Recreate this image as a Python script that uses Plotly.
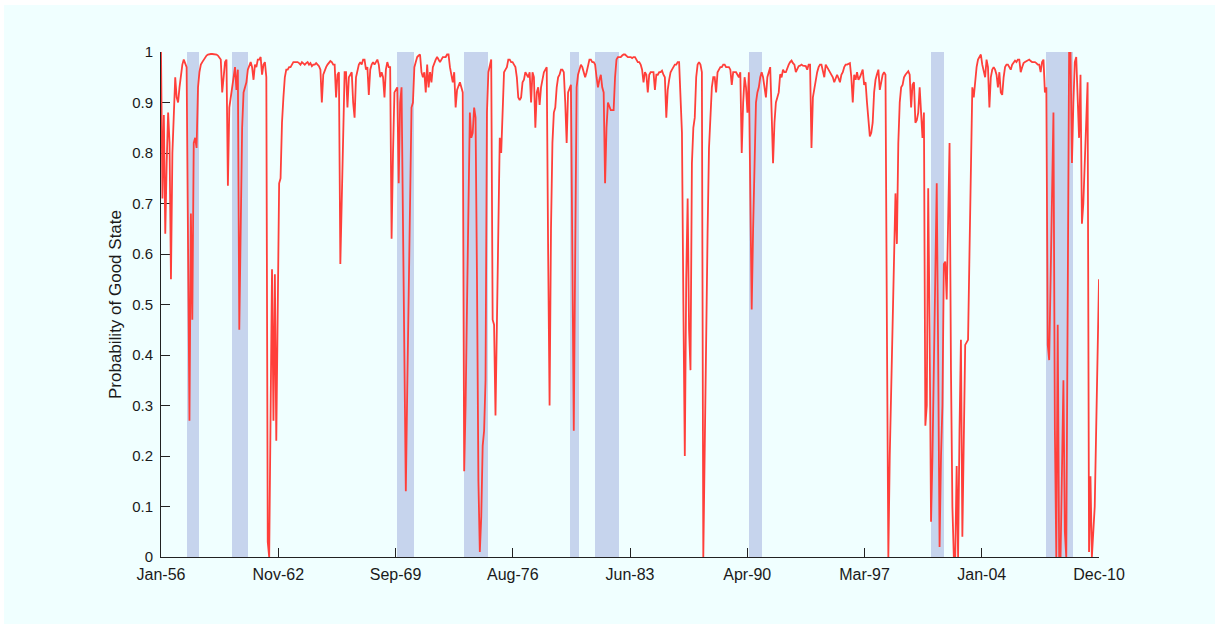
import numpy as np
import plotly.graph_objects as go

# ---------------- data (monthly probability of good state, Jan-1956 .. Dec-2010) ----------------
START_YEAR = 1956

p1950s = [
    1.00, 0.71, 0.875, 0.64, 0.78, 0.88, 0.82, 0.55, 0.80, 0.90, 0.95, 0.91,
    0.90, 0.93, 0.96, 0.975, 0.985, 0.975, 0.97, 0.62, 0.27, 0.68, 0.47, 0.82,
    0.83, 0.81, 0.93, 0.96, 0.975, 0.98, 0.985, 0.99, 0.993, 0.995, 0.996, 0.996,
    0.996, 0.996, 0.995, 0.995, 0.993, 0.99, 0.985, 0.92, 0.96, 0.98, 0.985, 0.735,
]
p1960s = [
    0.89, 0.91, 0.93, 0.95, 0.97, 0.925, 0.965, 0.45, 0.65, 0.85, 0.92, 0.93,
    0.94, 0.965, 0.975, 0.98, 0.97, 0.945, 0.975, 0.97, 0.985, 0.985, 0.99, 0.955,
    0.975, 0.98, 0.95, 0.03, 0.0, 0.30, 0.57, 0.27, 0.56, 0.23, 0.50, 0.74,
    0.75, 0.86, 0.91, 0.95, 0.965, 0.965, 0.97, 0.97, 0.975, 0.98, 0.98, 0.98,
    0.98, 0.978, 0.975, 0.98, 0.977, 0.975, 0.978, 0.98, 0.975, 0.978, 0.972, 0.975,
    0.975, 0.978, 0.975, 0.972, 0.965, 0.90, 0.955, 0.965, 0.97, 0.975, 0.98, 0.982,
    0.98, 0.975, 0.975, 0.91, 0.955, 0.96, 0.58, 0.72, 0.87, 0.96, 0.96, 0.89,
    0.95, 0.955, 0.96, 0.90, 0.87, 0.95, 0.965, 0.975, 0.98, 0.975, 0.985, 0.985,
    0.965, 0.97, 0.915, 0.965, 0.975, 0.98, 0.975, 0.98, 0.985, 0.975, 0.95, 0.96,
    0.95, 0.91, 0.965, 0.98, 0.97, 0.97, 0.63, 0.80, 0.92, 0.925, 0.93, 0.74,
]
p1970s = [
    0.90, 0.93, 0.67, 0.40, 0.13, 0.33, 0.55, 0.76, 0.89, 0.90, 0.97, 0.98,
    0.99, 0.993, 0.995, 0.96, 0.95, 0.96, 0.92, 0.975, 0.93, 0.96, 0.94, 0.97,
    0.98, 0.985, 0.99, 0.985, 0.98, 0.985, 0.99, 0.99, 0.99, 0.995, 0.995, 0.97,
    0.95, 0.94, 0.96, 0.89, 0.925, 0.935, 0.94, 0.93, 0.92, 0.17, 0.30, 0.50,
    0.69, 0.88, 0.83, 0.84, 0.89, 0.87, 0.55, 0.15, 0.01, 0.08, 0.22, 0.25,
    0.35, 0.88, 0.96, 0.975, 0.985, 0.47, 0.46, 0.28, 0.50, 0.72, 0.83, 0.80,
    0.90, 0.96, 0.965, 0.97, 0.985, 0.985, 0.98, 0.98, 0.975, 0.97, 0.95, 0.91,
    0.905, 0.91, 0.94, 0.945, 0.96, 0.955, 0.95, 0.96, 0.90, 0.96, 0.95, 0.85,
    0.92, 0.93, 0.895, 0.93, 0.95, 0.96, 0.965, 0.97, 0.60, 0.30, 0.65, 0.82,
    0.88, 0.89, 0.93, 0.95, 0.955, 0.965, 0.965, 0.96, 0.90, 0.82, 0.92, 0.93,
]
p1980s = [
    0.935, 0.60, 0.25, 0.60, 0.93, 0.955, 0.965, 0.975, 0.97, 0.96, 0.95, 0.96,
    0.975, 0.985, 0.985, 0.98, 0.98, 0.975, 0.95, 0.93, 0.945, 0.955, 0.93, 0.92,
    0.74, 0.85, 0.90, 0.89, 0.885, 0.885, 0.885, 0.95, 0.985, 0.99, 0.99, 0.99,
    0.993, 0.995, 0.995, 0.993, 0.99, 0.99, 0.99, 0.988, 0.99, 0.99, 0.985, 0.98,
    0.98, 0.975, 0.965, 0.94, 0.96, 0.955, 0.92, 0.955, 0.96, 0.96, 0.96, 0.925,
    0.955, 0.955, 0.96, 0.96, 0.963, 0.955, 0.95, 0.87, 0.925, 0.945, 0.96, 0.965,
    0.97, 0.975, 0.975, 0.98, 0.98, 0.90, 0.84, 0.50, 0.20, 0.55, 0.71, 0.45,
    0.37, 0.78, 0.85, 0.87, 0.95, 0.975, 0.98, 0.975, 0.96, 0.0, 0.24, 0.44,
    0.64, 0.81, 0.88, 0.93, 0.95, 0.95, 0.92, 0.96, 0.965, 0.97, 0.97, 0.975,
    0.975, 0.97, 0.97, 0.97, 0.965, 0.935, 0.96, 0.96, 0.96, 0.955, 0.95, 0.96,
]
p1990s = [
    0.80, 0.90, 0.95, 0.93, 0.88, 0.96, 0.75, 0.49, 0.65, 0.80, 0.90, 0.92,
    0.93, 0.95, 0.96, 0.95, 0.93, 0.91, 0.95, 0.96, 0.97, 0.88, 0.78, 0.86,
    0.90, 0.91, 0.92, 0.956, 0.95, 0.965, 0.96, 0.96, 0.97, 0.975, 0.98, 0.983,
    0.978, 0.975, 0.96, 0.968, 0.972, 0.973, 0.975, 0.973, 0.972, 0.972, 0.965, 0.975,
    0.975, 0.81, 0.91, 0.93, 0.94, 0.96, 0.97, 0.975, 0.975, 0.965, 0.95, 0.975,
    0.97, 0.965, 0.96, 0.955, 0.95, 0.94, 0.95, 0.955, 0.948, 0.94, 0.955, 0.96,
    0.97, 0.975, 0.975, 0.977, 0.978, 0.95, 0.90, 0.955, 0.945, 0.96, 0.945, 0.95,
    0.96, 0.965, 0.935, 0.94, 0.90, 0.87, 0.833, 0.84, 0.86, 0.92, 0.945, 0.956,
    0.965, 0.925, 0.94, 0.955, 0.96, 0.955, 0.45, 0.0, 0.20, 0.33, 0.46, 0.58,
    0.72, 0.62, 0.82, 0.90, 0.93, 0.935, 0.95, 0.955, 0.96, 0.962, 0.955, 0.89,
]
p2000s = [
    0.935, 0.94, 0.86, 0.865, 0.88, 0.93, 0.88, 0.83, 0.88, 0.26, 0.30, 0.73,
    0.45, 0.07, 0.20, 0.40, 0.55, 0.74, 0.40, 0.02, 0.20, 0.30, 0.58, 0.585,
    0.51, 0.70, 0.82, 0.37, 0.10, 0.0, 0.0, 0.18, 0.0, 0.25, 0.43, 0.04,
    0.20, 0.42, 0.425, 0.43, 0.60, 0.80, 0.93, 0.91, 0.95, 0.97, 0.985, 0.99,
    0.995, 0.975, 0.965, 0.95, 0.985, 0.97, 0.89, 0.95, 0.965, 0.97, 0.965, 0.955,
    0.93, 0.96, 0.92, 0.915, 0.95, 0.97, 0.975, 0.975, 0.97, 0.965, 0.975, 0.98,
    0.983, 0.98, 0.985, 0.985, 0.96, 0.97, 0.978, 0.98, 0.982, 0.983, 0.985, 0.982,
    0.98, 0.98, 0.98, 0.978, 0.975, 0.975, 0.96, 0.98, 0.985, 0.92, 0.93, 0.42,
    0.39, 0.55, 0.72, 0.88, 0.25, 0.0, 0.46, 0.0, 0.0, 0.15, 0.35, 0.05,
    0.0, 0.50, 1.0, 1.0, 0.78, 0.90, 0.98, 0.99, 0.90, 0.83, 0.955, 0.66,
]
p2010 = [0.70, 0.78, 0.86, 0.94, 0.01, 0.16, 0.0, 0.05, 0.10, 0.25, 0.40, 0.55]

# NBER recession periods (peak month, trough month)
recession_start = ["1957-08", "1960-04", "1969-12", "1973-11", "1980-01",
                   "1981-07", "1990-07", "2001-03", "2007-12"]
recession_end = ["1958-04", "1961-02", "1970-11", "1975-03", "1980-07",
                 "1982-11", "1991-03", "2001-11", "2009-06"]

tick_labels = ["Jan-56", "Nov-62", "Sep-69", "Aug-76", "Jun-83",
               "Apr-90", "Mar-97", "Jan-04", "Dec-10"]
y_ticks = [0, 0.1, 0.2, 0.3, 0.4, 0.5, 0.6, 0.7, 0.8, 0.9, 1.0]
y_ticktext = ["0", "0.1", "0.2", "0.3", "0.4", "0.5", "0.6", "0.7", "0.8", "0.9", "1"]

# ---------------- build ----------------
prob = p1950s + p1960s + p1970s + p1980s + p1990s + p2000s + p2010
months = np.arange(len(prob))


def month_index(s):
    y, m = s.split("-")
    return (int(y) - START_YEAR) * 12 + int(m) - 1


band_x0 = [month_index(s) - 1 for s in recession_start]
band_x1 = [month_index(s) for s in recession_end]
band_center = [(a + b) / 2 for a, b in zip(band_x0, band_x1)]
band_width = [b - a for a, b in zip(band_x0, band_x1)]

BG = "#F0FFFF"
FONT = "Liberation Sans, Arial, Helvetica, sans-serif"
TXT = "#1a1a1a"

fig = go.Figure()
fig.add_trace(go.Bar(
    x=band_center, y=[1] * len(band_center), base=0, width=band_width,
    marker=dict(color="rgb(198,212,237)", line=dict(width=0)),
    hoverinfo="skip", showlegend=False,
))
fig.add_trace(go.Scatter(
    x=months, y=prob, mode="lines",
    line=dict(color="#FF3F3A", width=1.8),
    showlegend=False,
))

L, R, T, B = 161, 116, 52, 67
W, H = 1215, 624
pw, ph = W - L - R, H - T - B

def px_x(x):
    return (x - L) / pw

def px_y(y):
    return (H - B - y) / ph

# white strips at the very top and left edge of the page
fig.add_shape(type="rect", xref="paper", yref="paper", layer="below",
              x0=px_x(0), x1=px_x(4), y0=px_y(H), y1=px_y(0),
              fillcolor="white", line=dict(width=0))
fig.add_shape(type="rect", xref="paper", yref="paper", layer="below",
              x0=px_x(0), x1=px_x(W), y0=px_y(5), y1=px_y(0),
              fillcolor="white", line=dict(width=0))

fig.update_layout(
    width=W, height=H,
    margin=dict(l=L, r=R, t=T, b=B, pad=0),
    paper_bgcolor=BG, plot_bgcolor=BG,
    font=dict(family=FONT, size=16, color=TXT),
    bargap=0,
)
fig.update_xaxes(
    range=[0, len(prob) - 1],
    tickmode="array",
    tickvals=list(np.linspace(0, len(prob) - 1, len(tick_labels))),
    ticktext=tick_labels,
    ticks="inside", ticklen=9, tickwidth=1, tickcolor="#222",
    showline=True, linecolor="#222", linewidth=1,
    showgrid=False, zeroline=False, layer="below traces",
    tickfont=dict(size=16, family=FONT, color=TXT),
    ticklabelstandoff=3,
)
fig.update_yaxes(
    range=[0, 1],
    tickmode="array", tickvals=y_ticks, ticktext=y_ticktext,
    ticks="inside", ticklen=9, tickwidth=1, tickcolor="#222",
    showline=True, linecolor="#222", linewidth=1,
    showgrid=False, zeroline=False, layer="below traces",
    tickfont=dict(size=15, family=FONT, color=TXT),
    ticklabelstandoff=4,
    title=dict(text="Probability of Good State", standoff=6,
               font=dict(size=17, family=FONT, color=TXT)),
)

fig.write_html("out.html")
